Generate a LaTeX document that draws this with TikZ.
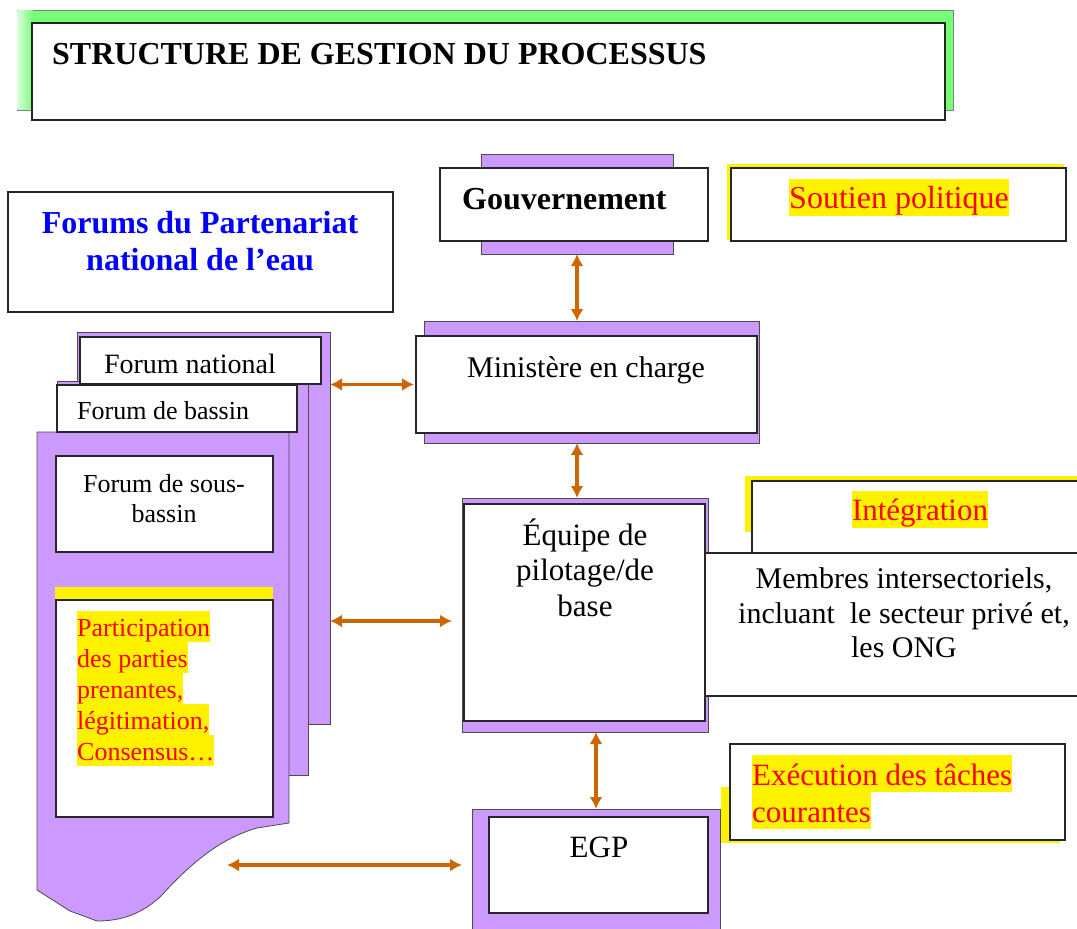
\documentclass[tikz,border=0pt]{standalone}
\usepackage{fontspec}
\setmainfont{Liberation Serif}
\usetikzlibrary{arrows.meta, calc}
\definecolor{lilac}{RGB}{204,153,255}
\definecolor{titlegreen}{RGB}{120,255,120}
\definecolor{arroworange}{RGB}{204,102,0}

\begin{document}
\begin{tikzpicture}[x=1pt, y=-1pt,
  whitebox/.style={draw=black!85, line width=1.5pt, fill=white, inner sep=0pt, outer sep=0pt, anchor=north west},
  purplebox/.style={draw=black!70, line width=0.8pt, fill=lilac, inner sep=0pt, outer sep=0pt, anchor=north west},
  yellowbox/.style={fill=yellow, inner sep=0pt, outer sep=0pt, anchor=north west},
  lbl/.style={inner sep=0pt, font=\fontsize{31}{36}\selectfont},
  hl/.style={fill=yellow, text=red, inner sep=0pt, text height=29pt, text depth=8pt},
  link/.style={<->, >={Latex[length=12pt, width=13pt]}, draw=arroworange, line width=3.2pt}]
  \useasboundingbox (0,0) rectangle (1077,929);
  \clip (0,0) rectangle (1077,929);

  % title
  \node[purplebox, draw=black!50, fill=titlegreen, minimum width=936, minimum height=100] (titleg) at (17,10) {};
  \shade[left color=green!15!white, right color=titlegreen] (17.5,10.5) rectangle (33,109.5);
  \node[whitebox, minimum width=913, minimum height=97] (titlew) at (32,23) {};
  \node[lbl, anchor=base west, font=\bfseries\fontsize{32}{38}\selectfont] (ttl) at (52,64) {STRUCTURE DE GESTION DU PROCESSUS};

  % top row
  \node[purplebox, minimum width=192, minimum height=100] (gouvp) at (481,154) {};
  \node[whitebox, minimum width=268, minimum height=73] (gouvw) at (440,168) {};
  \node[lbl, anchor=base west, font=\bfseries\fontsize{32}{38}\selectfont] (gouv) at (462,209) {Gouvernement};
  \node[yellowbox, minimum width=337, minimum height=76] (soutienhl) at (727,164) {};
  \node[whitebox, minimum width=335, minimum height=73] (soutienw) at (731,168) {};
  \node[lbl, hl, anchor=base, font=\fontsize{32}{38}\selectfont] (soutien) at (899,208) {Soutien politique};

  \node[whitebox, minimum width=385, minimum height=120] (forums) at (8,192) {};
  \node[lbl, anchor=base, text=blue, font=\bfseries\fontsize{32}{38}\selectfont] (forums1) at (200,233) {Forums du Partenariat};
  \node[lbl, anchor=base, text=blue, font=\bfseries\fontsize{32}{38}\selectfont] (forums2) at (200,270) {national de l’eau};

  % stacked forum pages
  \node[purplebox, minimum width=253, minimum height=392] (natpage) at (77,332) {};
  \node[purplebox, minimum width=251, minimum height=394] (baspage) at (57,381) {};
  \draw[draw=black!70, line width=0.8pt, fill=lilac] (37,432) -- (289,432) -- (289,823) -- (257,828)
    .. controls (215,840) and (185,870) .. (160,897)
    .. controls (140,915) and (120,921) .. (97,921) -- (70,911) -- (37,890) -- cycle;
  \node[whitebox, minimum width=241, minimum height=47] (natw) at (80,337) {};
  \node[lbl, anchor=base, font=\fontsize{28}{34}\selectfont] (nat) at (190,373) {Forum national};
  \node[whitebox, minimum width=240, minimum height=47] (basw) at (57,385) {};
  \node[lbl, anchor=base west, font=\fontsize{26}{31}\selectfont] (bas) at (77,419) {Forum de bassin};
  \node[whitebox, minimum width=217, minimum height=96] (sousw) at (56,456) {};
  \node[lbl, anchor=base, font=\fontsize{26}{31}\selectfont] (sous1) at (164,492) {Forum de sous-};
  \node[lbl, anchor=base, font=\fontsize{26}{31}\selectfont] (sous2) at (164,522) {bassin};
  \node[yellowbox, minimum width=218, minimum height=223] (parthl) at (55,587) {};
  \node[whitebox, minimum width=217, minimum height=217] (partw) at (56,600) {};
  \node[lbl, hl, anchor=base west, text height=25pt, text depth=6pt, font=\fontsize{26}{31}\selectfont] (part1) at (77,636) {Participation};
  \node[lbl, hl, anchor=base west, text height=25pt, text depth=6pt, font=\fontsize{26}{31}\selectfont] (part2) at (77,667) {des parties};
  \node[lbl, hl, anchor=base west, text height=25pt, text depth=6pt, font=\fontsize{26}{31}\selectfont] (part3) at (77,698) {prenantes,};
  \node[lbl, hl, anchor=base west, text height=25pt, text depth=6pt, font=\fontsize{26}{31}\selectfont] (part4) at (77,729) {légitimation,};
  \node[lbl, hl, anchor=base west, text height=25pt, text depth=6pt, font=\fontsize{26}{31}\selectfont] (part5) at (77,760) {Consensus…};

  % middle column
  \node[purplebox, minimum width=335, minimum height=122] (minp) at (424,321) {};
  \node[whitebox, minimum width=341, minimum height=97] (minw) at (416,336) {};
  \node[lbl, anchor=base, font=\fontsize{30}{36}\selectfont] (min) at (586,377) {Ministère en charge};

  \node[purplebox, minimum width=246, minimum height=234] (eqp) at (462,498) {};
  \node[whitebox, minimum width=241, minimum height=217] (eqw) at (464,504) {};
  \node[lbl, anchor=base] (eq1) at (585,545) {Équipe de};
  \node[lbl, anchor=base] (eq2) at (585,580) {pilotage/de};
  \node[lbl, anchor=base] (eq3) at (585,616) {base};

  \node[yellowbox, minimum width=340, minimum height=56] (inthl) at (745,476) {};
  \node[whitebox, minimum width=338, minimum height=72] (intw) at (752,481) {};
  \node[lbl, hl, anchor=base] (integ) at (920,520) {Intégration};
  \node[whitebox, minimum width=385, minimum height=143] (membw) at (705,553) {};
  \node[lbl, anchor=base, font=\fontsize{30}{35}\selectfont] (memb1) at (904,588) {Membres intersectoriels,};
  \node[lbl, anchor=base, font=\fontsize{30}{35}\selectfont] (memb2) at (904,623) {incluant\ \ le secteur privé et,};
  \node[lbl, anchor=base, font=\fontsize{30}{35}\selectfont] (memb3) at (904,657) {les ONG};

  \node[purplebox, minimum width=248, minimum height=131] (egpp) at (472,809) {};
  \node[whitebox, minimum width=219, minimum height=96] (egpw) at (489,817) {};
  \node[lbl, anchor=base] (egp) at (599,857) {EGP};
  \node[yellowbox, minimum width=339, minimum height=56] (exehl) at (721,787) {};
  \node[whitebox, minimum width=335, minimum height=96] (exew) at (730,744) {};
  \node[lbl, hl, anchor=base west, text height=30pt, text depth=7pt] (exe1) at (752,785) {Exécution des tâches};
  \node[lbl, hl, anchor=base west, text height=30pt, text depth=7pt] (exe2) at (752,822) {courantes};

  % connectors
  \draw[link] (gouvp.south) -- (gouvp.south |- minp.north);
  \draw[link] (gouvp.south |- minp.south) -- (gouvp.south |- eqp.north);
  \draw[link] (egpp.north |- eqp.south) -- (egpp.north);
  \draw[link] (natpage.east |- minw.west) -- ($(minw.west)+(-2,0)$);
  \draw[link] ($(natpage.east |- eqp.west)+(0,6)$) -- ($(eqp.west)+(-10,6)$);
  \coordinate (tailegp) at (227,865);
  \draw[link] (tailegp) -- ($(egpp.west |- tailegp)+(-10,0)$);
\end{tikzpicture}
\end{document}
